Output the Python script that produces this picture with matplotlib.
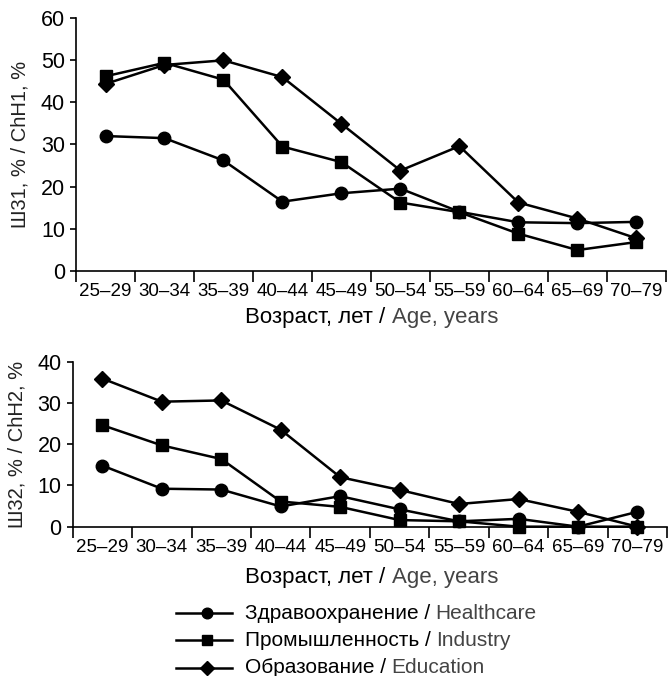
import matplotlib
matplotlib.use("Agg")
import matplotlib.pyplot as plt
from matplotlib.lines import Line2D
from matplotlib.offsetbox import TextArea, HPacker, VPacker, DrawingArea, AnnotationBbox

plt.rcParams['font.family'] = ['Liberation Sans', 'DejaVu Sans']

ages = ["25–29", "30–34", "35–39", "40–44", "45–49", "50–54", "55–59", "60–64", "65–69", "70–79"]

# ШЗ1 / ChH1, %
health_1 = [32.0, 31.5, 26.2, 16.4, 18.4, 19.5, 14.0, 11.5, 11.3, 11.6]
industry_1 = [46.2, 49.4, 45.4, 29.5, 25.8, 16.2, 13.9, 8.8, 4.9, 6.8]
education_1 = [44.4, 48.9, 50.0, 46.0, 34.9, 23.8, 29.6, 16.2, 12.4, 7.7]

# ШЗ2 / ChH2, %
health_2 = [14.8, 9.2, 9.0, 4.9, 7.4, 4.2, 1.3, 1.9, 0.0, 3.6]
industry_2 = [24.6, 19.7, 16.4, 6.1, 4.8, 1.6, 1.3, 0.0, 0.0, 0.0]
education_2 = [35.9, 30.3, 30.6, 23.5, 12.0, 8.9, 5.5, 6.7, 3.6, 0.0]

series_ru = ["Здравоохранение / ", "Промышленность / ", "Образование / "]
series_en = ["Healthcare", "Industry", "Education"]
markers = ["o", "s", "D"]
msizes = [9, 9, 8]

GRAY = "#444444"

fig = plt.figure(figsize=(6.71, 6.76), dpi=100)
ax1 = fig.add_axes([0.1133, 0.5996, 0.879, 0.3734])
ax2 = fig.add_axes([0.1083, 0.2209, 0.886, 0.2441])


def style_axis(ax, ymax, ylabel):
    ax.set_xlim(-0.5, len(ages) - 0.5)
    ax.set_ylim(0, ymax)
    ax.set_yticks(range(0, ymax + 1, 10))
    ax.set_xticks(range(len(ages)))
    ax.set_xticklabels(ages)
    ax.set_xticks([i - 0.5 for i in range(len(ages) + 1)], minor=True)
    ax.tick_params(axis="x", which="major", length=0, labelsize=13.5, pad=9)
    ax.tick_params(axis="x", which="minor", length=8, width=1.2, direction="out")
    ax.tick_params(axis="y", length=4, width=1.2, labelsize=15.5, pad=4)
    for s in ["top", "right"]:
        ax.spines[s].set_visible(False)
    for s in ["left", "bottom"]:
        ax.spines[s].set_linewidth(1.2)
    ax.set_ylabel(ylabel, fontsize=14.5, color="#222222", labelpad=8)


for ax, data in [(ax1, [health_1, industry_1, education_1]),
                 (ax2, [health_2, industry_2, education_2])]:
    for vals, m, ms in zip(data, markers, msizes):
        ax.plot(range(len(ages)), vals, color="black", lw=1.8, marker=m,
                markersize=ms, clip_on=False, zorder=3)

style_axis(ax1, 60, "Ш31, % / ChH1, %")
style_axis(ax2, 40, "Ш32, % / ChH2, %")


def mixed(ru, en, fs):
    return HPacker(children=[TextArea(ru, textprops=dict(color="black", fontsize=fs)),
                             TextArea(en, textprops=dict(color=GRAY, fontsize=fs))],
                   align="baseline", pad=0, sep=0)


for yy in [0.5296, 0.1464]:
    ab = AnnotationBbox(mixed("Возраст, лет / ", "Age, years", 16), (0.554, yy),
                        xycoords="figure fraction", frameon=False,
                        box_alignment=(0.5, 0.5), pad=0)
    fig.add_artist(ab)

# legend
rows = []
for ru, en, m, ms in zip(series_ru, series_en, markers, msizes):
    da = DrawingArea(40, 14, 0, 0)
    da.add_artist(Line2D([0, 40], [7, 7], color="black", lw=1.8))
    da.add_artist(Line2D([22], [7], color="black", marker=m, markersize=ms * 0.85))
    rows.append(HPacker(children=[da, mixed(ru, en, 15)], align="center", pad=0, sep=9.5))
leg = VPacker(children=rows, align="left", pad=0, sep=5.5)
fig.add_artist(AnnotationBbox(leg, (0.2623, 0.107), xycoords="figure fraction",
                              frameon=False, box_alignment=(0, 1), pad=0))

fig.savefig("out.png", dpi=100)
